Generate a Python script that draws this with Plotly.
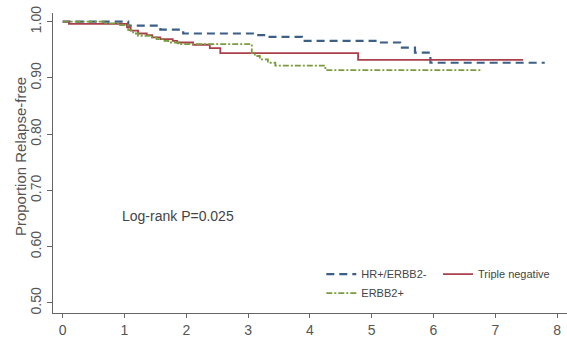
import plotly.graph_objects as go

# Kaplan-Meier step data (years, proportion relapse-free)
hr_years = [0, 1.06, 1.58, 1.95, 3.14, 3.30, 3.87, 5.09, 5.46, 5.70, 5.95, 7.80]
hr_surv = [1.000, 0.993, 0.986, 0.979, 0.976, 0.973, 0.966, 0.963, 0.954, 0.945, 0.927, 0.927]

tn_years = [0, 0.10, 1.04, 1.10, 1.22, 1.36, 1.45, 1.58, 1.78, 1.85, 2.11, 2.38, 2.55, 4.78, 7.45]
tn_surv = [1.000, 0.996, 0.990, 0.984, 0.979, 0.976, 0.972, 0.969, 0.966, 0.963, 0.959, 0.953, 0.944, 0.932, 0.932]

er_years = [0, 0.69, 0.93, 1.06, 1.14, 1.22, 1.41, 1.52, 1.62, 1.71, 1.87, 3.06, 3.11, 3.19, 3.32, 3.44, 3.97, 4.25, 6.78]
er_surv = [1.000, 0.997, 0.994, 0.985, 0.979, 0.975, 0.972, 0.969, 0.966, 0.963, 0.960, 0.944, 0.939, 0.933, 0.927, 0.922, 0.922, 0.914, 0.914]

x_ticks = [0, 1, 2, 3, 4, 5, 6, 7, 8]
y_ticks = [0.5, 0.6, 0.7, 0.8, 0.9, 1.0]
y_tick_labels = ["0.50", "0.60", "0.70", "0.80", "0.90", "1.00"]

fig = go.Figure()
fig.add_trace(go.Scatter(x=hr_years, y=hr_surv, mode="lines", line_shape="hv",
                         name="HR+/ERBB2-", legend="legend",
                         line=dict(color="#3c5f86", width=2.2, dash="8px,5px")))
fig.add_trace(go.Scatter(x=tn_years, y=tn_surv, mode="lines", line_shape="hv",
                         name="Triple negative", legend="legend2",
                         line=dict(color="#a9404c", width=1.8)))
fig.add_trace(go.Scatter(x=er_years, y=er_surv, mode="lines", line_shape="hv",
                         name="ERBB2+", legend="legend",
                         line=dict(color="#7c9a3e", width=1.8, dash="6px,2px,2px,2px")))

leg_common = dict(yanchor="top", xanchor="left", font=dict(size=11, color="#444444"),
                  itemwidth=30, bgcolor="rgba(0,0,0,0)", tracegroupgap=0,
                  traceorder="normal")

fig.update_layout(
    width=567, height=345,
    margin=dict(l=53, r=0, t=13, b=32, autoexpand=False),
    plot_bgcolor="white", paper_bgcolor="white",
    font=dict(family="Liberation Sans, Arial, sans-serif", color="#555555"),
    showlegend=True,
    legend=dict(x=0.522, y=0.178, **leg_common),
    legend2=dict(x=0.749, y=0.178, **leg_common),
    xaxis=dict(range=[-0.157, 8.16], tickvals=x_ticks, ticks="outside", ticklen=4,
               tickcolor="#666666", showline=True, linecolor="#666666", linewidth=1,
               showgrid=False, zeroline=False, automargin=False,
               tickfont=dict(size=14, color="#555555")),
    yaxis=dict(range=[0.482, 1.0155], tickvals=y_ticks, ticktext=y_tick_labels,
               ticks="outside", ticklen=5, tickcolor="#666666", tickangle=-90,
               showline=True, linecolor="#666666", linewidth=1, showgrid=False,
               zeroline=False, automargin=False,
               tickfont=dict(size=14, color="#555555")),
    annotations=[
        dict(text="Log-rank P=0.025", xref="x", yref="y", x=0.93, y=0.655,
             xanchor="left", yanchor="middle", showarrow=False,
             font=dict(size=14, color="#444444")),
        dict(text="Proportion Relapse-free", xref="paper", yref="paper",
             x=-0.064, y=0.52, textangle=-90, showarrow=False,
             xanchor="center", yanchor="middle", font=dict(size=15, color="#555555")),
        dict(text="Years", xref="paper", yref="paper", x=0.5, y=-0.092,
             showarrow=False, xanchor="center", yanchor="top",
             font=dict(size=14, color="#555555")),
    ],
)

fig.write_html(
    "out.html",
    config={"displayModeBar": False},
    post_script="document.body.style.margin='0';document.body.style.overflow='hidden';",
)
